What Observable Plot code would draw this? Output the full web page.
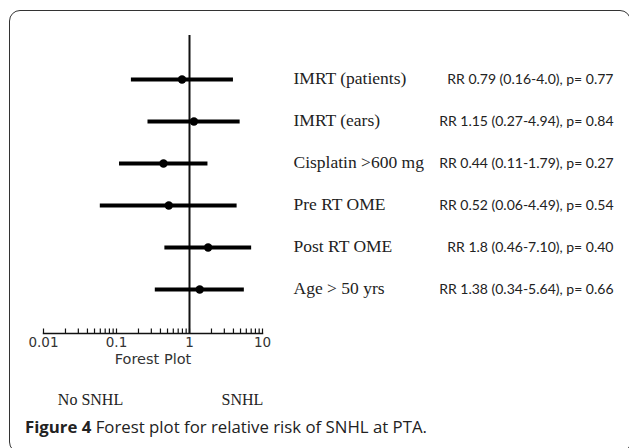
<!DOCTYPE html>
<html><head><meta charset="utf-8">
<script src="https://cdn.jsdelivr.net/npm/d3@7"></script>
<script src="https://cdn.jsdelivr.net/npm/@observablehq/plot@0.6"></script>
<style>
body{margin:0;background:#fff;}
#wrap{position:relative;width:629px;height:448px;overflow:hidden;background:#fff;}
#chart{position:absolute;left:0;top:0;}
#frame{position:absolute;left:9px;top:10px;width:622px;height:443px;border:1.6px solid #333;border-radius:11px;box-sizing:border-box;}
#caption{position:absolute;left:25px;top:415px;font-family:"Open Sans";font-size:16.8px;color:#222;white-space:nowrap;}
</style></head>
<body>
<div id="wrap"><div id="chart"></div><div id="frame"></div><div id="caption"><b>Figure 4</b> Forest plot for relative risk of SNHL at PTA.</div></div>
<script>
const factors = ["IMRT (patients)", "IMRT (ears)", "Cisplatin >600 mg", "Pre RT OME", "Post RT OME", "Age > 50 yrs"];
const rr = [0.79, 1.15, 0.44, 0.52, 1.8, 1.38];
const lo = [0.16, 0.27, 0.11, 0.06, 0.46, 0.34];
const hi = [4.0, 4.94, 1.79, 4.49, 7.10, 5.64];
const stats = [
  "RR 0.79 (0.16-4.0), p= 0.77",
  "RR 1.15 (0.27-4.94), p= 0.84",
  "RR 0.44 (0.11-1.79), p= 0.27",
  "RR 0.52 (0.06-4.49), p= 0.54",
  "RR 1.8 (0.46-7.10), p= 0.40",
  "RR 1.38 (0.34-5.64), p= 0.66"
];
const tickValues = [0.01, 0.1, 1, 10];
const tickLabels = ["0.01", "0.1", "1", "10"];
const axisTitle = "Forest Plot";
const directionLabels = ["No SNHL", "SNHL"];

const rows = factors.map((f, i) => ({factor: f, rr: rr[i], lo: lo[i], hi: hi[i], stat: stats[i]}));
const minorTicks = d3.scaleLog().domain([0.01, 10]).ticks();

const plot = Plot.plot({
  width: 629, height: 448,
  marginLeft: 43, marginRight: 367, marginTop: 35, marginBottom: 115,
  style: {background: "transparent", overflow: "visible"},
  x: {type: "log", domain: [0.01, 10], axis: null},
  y: {type: "point", domain: factors, padding: 1, axis: null},
  marks: [
    Plot.frame({anchor: "bottom", stroke: "#111", strokeWidth: 1.5}),
    Plot.tickX(minorTicks, {x: d => d, insetTop: 293.5, stroke: "#111", strokeWidth: 1.2}),
    Plot.ruleX([1], {stroke: "#111", strokeWidth: 2}),
    Plot.ruleY(rows, {y: "factor", x1: "lo", x2: "hi", stroke: "#000", strokeWidth: 4}),
    Plot.dot(rows, {x: "rr", y: "factor", r: 4.2, fill: "#000"}),
    Plot.text(rows, {y: "factor", text: "factor", frameAnchor: "left", dx: 250, dy: -1, textAnchor: "start",
      fontFamily: "Liberation Serif", fontSize: 17.5, fill: "#222", letterSpacing: "-0.3px"}),
    Plot.text(rows, {y: "factor", text: "stat", frameAnchor: "left", dx: 570, textAnchor: "end",
      fontFamily: "Lato", fontSize: 14, fill: "#222"}),
    Plot.text(tickValues, {x: d => d, text: (d, i) => tickLabels[i], frameAnchor: "bottom", dy: 13.5,
      fontFamily: "DejaVu Sans", fontSize: 13.5, fill: "#333"}),
    Plot.text([axisTitle], {text: d => d, frameAnchor: "bottom", dy: 30.5,
      fontFamily: "DejaVu Sans", fontSize: 14.5, fill: "#333"}),
    Plot.text([directionLabels[0]], {text: d => d, frameAnchor: "bottom-left", dx: 47, dy: 71, textAnchor: "middle",
      fontFamily: "Liberation Serif", fontSize: 16, fill: "#222", letterSpacing: "-0.4px"}),
    Plot.text([directionLabels[1]], {text: d => d, frameAnchor: "bottom-left", dx: 199, dy: 71, textAnchor: "middle",
      fontFamily: "Liberation Serif", fontSize: 16, fill: "#222", letterSpacing: "-0.4px"})
  ]
});
document.getElementById("chart").appendChild(plot);
</script>
</body></html>
